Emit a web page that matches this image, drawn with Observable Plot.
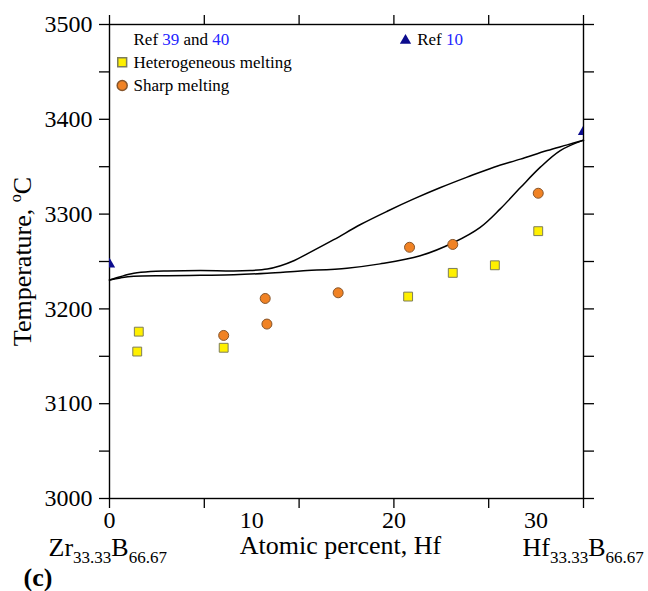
<!DOCTYPE html>
<html>
<head>
<meta charset="utf-8">
<script src="https://cdn.jsdelivr.net/npm/d3@7"></script>
<script src="https://cdn.jsdelivr.net/npm/@observablehq/plot@0.6"></script>
<style>
  html, body { margin: 0; padding: 0; background: #fff; }
  #chart { width: 648px; height: 591px; }
  #chart svg text, #chart svg tspan { font-family: "Liberation Serif", "Times New Roman", serif; }
</style>
</head>
<body>
<div id="chart"></div>
<script>
// ---- data ----
const xMax = 33.333;
const xTickLabels = [0, 10, 20, 30];
const yTickLabels = [3000, 3100, 3200, 3300, 3400, 3500];

// Heterogeneous melting (Ref 39 and 40) – yellow squares
const heteroX = [1.95, 2.06, 8.03, 21.0, 24.14, 27.1, 30.15];
const heteroT = [3155, 3176, 3159, 3213, 3238, 3246, 3282];

// Sharp melting (Ref 39 and 40) – orange circles
const sharpX = [8.03, 10.95, 11.07, 16.08, 21.1, 24.14, 30.15];
const sharpT = [3172, 3211, 3184, 3217, 3265, 3268, 3322];

// Ref 10 – navy triangles
const ref10X = [0, 33.333];
const ref10T = [3247, 3387];

// Liquidus (upper curve)
const liqX = [0, 0.77, 1.71, 2.88, 4.06, 6.4, 8.74, 9.9, 11.09, 12.03, 13.0, 13.9, 15.77, 17.65, 19.53, 21.4, 23.28, 25.15, 27.03, 28.9, 30.78, 32.19, 33.333];
const liqT = [3230.5, 3234, 3237.5, 3239.4, 3240, 3240.4, 3240, 3240.5, 3242, 3245.5, 3251, 3258, 3273, 3289, 3303, 3316, 3328, 3339, 3349.5, 3358, 3367, 3373, 3378];

// Solidus (lower curve)
const solX = [0, 0.77, 1.71, 4.06, 6.4, 8.74, 11.09, 13.43, 16.7, 19.03, 21.85, 24.2, 26.07, 27.48, 28.9, 30.3, 31.7, 33.333];
const solT = [3230.5, 3232.7, 3234.4, 3235, 3235.5, 3236, 3237.6, 3240, 3243, 3247.5, 3256, 3270, 3286, 3305.5, 3328, 3349.5, 3367, 3378];

// texts
const yLabel = "Temperature, ^{o}C";
const xLabel = "Atomic percent, Hf";
const leftCompound = "Zr_{33.33}B_{66.67}";
const rightCompound = "Hf_{33.33}B_{66.67}";
const panelTag = "(c)";
const legendHeader = "Ref [39] and [40]";
const legendHetero = "Heterogeneous melting";
const legendSharp = "Sharp melting";
const legendRef10 = "Ref [10]";

// ---- build tables ----
const hetero = heteroX.map((x, i) => ({x, t: heteroT[i]}));
const sharp = sharpX.map((x, i) => ({x, t: sharpT[i]}));
const ref10 = ref10X.map((x, i) => ({x, t: ref10T[i]}));
const liq = liqX.map((x, i) => ({x, t: liqT[i]}));
const sol = solX.map((x, i) => ({x, t: solT[i]}));

const xTicks = d3.range(0, 6).map(i => i * xMax / 5);
const yTicks = d3.range(3000, 3501, 50);
const blank = () => "";

const sqFill = "#fff000", sqStroke = "#7d7d5a";
const ciFill = "#f08224", ciStroke = "#86552b";
const triFill = "#0c0c8e";
const F = "Liberation Serif";

const plot = Plot.plot({
  width: 648,
  height: 591,
  marginLeft: 109,
  marginRight: 65,
  marginTop: 24,
  marginBottom: 93,
  style: {fontFamily: F, fontSize: "24px", background: "#fff", color: "#000"},
  x: {domain: [0, xMax]},
  y: {domain: [3000, 3500]},
  marks: [
    // ticks on all four sides
    Plot.axisX(xTicks, {anchor: "bottom", tickSize: 10, tickFormat: blank, label: null, strokeWidth: 1.3}),
    Plot.axisX(xTicks, {anchor: "top", tickSize: 10, tickFormat: blank, label: null, strokeWidth: 1.3}),
    Plot.axisX(xTickLabels, {anchor: "bottom", tickSize: 0, tickPadding: 12, tickFormat: d => String(d), label: null, fontSize: 24, fontFamily: F}),
    Plot.axisY(yTicks, {anchor: "left", tickSize: 10, tickFormat: blank, label: null, strokeWidth: 1.3}),
    Plot.axisY(yTicks, {anchor: "right", tickSize: 10, tickFormat: blank, label: null, strokeWidth: 1.3}),
    Plot.axisY(yTickLabels, {anchor: "left", tickSize: 0, tickPadding: 17, tickFormat: d => String(d), label: null, fontSize: 24, fontFamily: F}),
    Plot.frame({stroke: "#000", strokeWidth: 1.4}),

    // curves
    Plot.line(liq, {x: "x", y: "t", curve: "catmull-rom", stroke: "#000", strokeWidth: 1.5}),
    Plot.line(sol, {x: "x", y: "t", curve: "catmull-rom", stroke: "#000", strokeWidth: 1.5}),

    // data points
    Plot.dot(hetero, {x: "x", y: "t", symbol: "square", r: 5, fill: sqFill, stroke: sqStroke, strokeWidth: 1}),
    Plot.dot(sharp, {x: "x", y: "t", symbol: "circle", r: 5, fill: ciFill, stroke: ciStroke, strokeWidth: 1}),
    Plot.dot(ref10, {x: "x", y: "t", symbol: "triangle", r: 4.2, fill: triFill, stroke: null, clip: "frame"}),

    // legend
    Plot.text([legendHeader], {text: d => d, frameAnchor: "top-left", dx: 24, dy: 15.5, textAnchor: "start", lineAnchor: "middle", fontSize: 17, fontFamily: F}),
    Plot.dot([0], {frameAnchor: "top-left", dx: 12.7, dy: 37.7, symbol: "square", r: 5, fill: sqFill, stroke: sqStroke}),
    Plot.text([legendHetero], {text: d => d, frameAnchor: "top-left", dx: 24, dy: 37.6, textAnchor: "start", lineAnchor: "middle", fontSize: 17, fontFamily: F}),
    Plot.dot([0], {frameAnchor: "top-left", dx: 12.7, dy: 61, symbol: "circle", r: 5, fill: ciFill, stroke: ciStroke}),
    Plot.text([legendSharp], {text: d => d, frameAnchor: "top-left", dx: 24, dy: 60.6, textAnchor: "start", lineAnchor: "middle", fontSize: 17, fontFamily: F}),
    Plot.dot([0], {frameAnchor: "top-left", dx: 296, dy: 16, symbol: "triangle", r: 4.2, fill: triFill, stroke: null}),
    Plot.text([legendRef10], {text: d => d, frameAnchor: "top-left", dx: 307.7, dy: 15.5, textAnchor: "start", lineAnchor: "middle", fontSize: 17, fontFamily: F}),

    // axis titles and labels
    Plot.text([yLabel], {text: d => d, frameAnchor: "left", rotate: -90, dx: -87, textAnchor: "middle", lineAnchor: "middle", fontSize: 26, fontFamily: F}),
    Plot.text([xLabel], {text: d => d, frameAnchor: "bottom", dx: -6, dy: 47, textAnchor: "middle", lineAnchor: "middle", fontSize: 26, fontFamily: F}),
    Plot.text([leftCompound], {text: d => d, frameAnchor: "bottom-left", dx: -61, dy: 49, textAnchor: "start", lineAnchor: "middle", fontSize: 26, fontFamily: F}),
    Plot.text([rightCompound], {text: d => d, frameAnchor: "bottom-right", dx: -61, dy: 49, textAnchor: "start", lineAnchor: "middle", fontSize: 26, fontFamily: F}),
    Plot.text([panelTag], {text: d => d, frameAnchor: "bottom-left", dx: -86, dy: 79, textAnchor: "start", lineAnchor: "middle", fontSize: 26, fontWeight: "bold", fontFamily: F})
  ]
});

// rich text: _{sub}, ^{sup}, [blue]
function richify(svg) {
  const re = /(_\{[^}]*\}|\^\{[^}]*\}|\[[^\]]*\])/;
  d3.select(svg).selectAll("text").each(function() {
    const s = this.textContent;
    if (!/(_\{|\^\{|\[)/.test(s)) return;
    const el = d3.select(this);
    el.text(null);
    let shift = 0;
    s.split(re).filter(p => p.length).forEach(p => {
      const ts = el.append("tspan");
      if (p.startsWith("_{")) {
        ts.text(p.slice(2, -1)).attr("font-size", "17px").attr("dy", 7 - shift);
        shift = 7;
      } else if (p.startsWith("^{")) {
        ts.text(p.slice(2, -1)).attr("font-size", "16px").attr("dy", -10 - shift);
        shift = -10;
      } else if (p.startsWith("[")) {
        ts.text(p.slice(1, -1)).attr("fill", "#2424ff");
        if (shift) { ts.attr("dy", -shift); shift = 0; }
      } else {
        ts.text(p);
        if (shift) { ts.attr("dy", -shift); shift = 0; }
      }
    });
  });
}
richify(plot);
document.getElementById("chart").appendChild(plot);
</script>
</body>
</html>
